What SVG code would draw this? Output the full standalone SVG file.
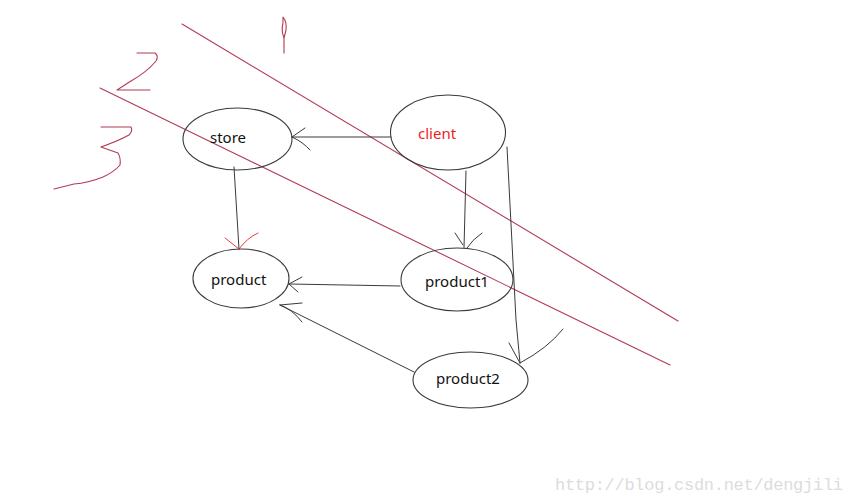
<svg xmlns="http://www.w3.org/2000/svg" width="856" height="502" viewBox="0 0 856 502">
<style>
.bg{fill:#ffffff}
.node ellipse{fill:none;stroke:#3a3a3a;stroke-width:1.1}
.lbl{font-family:"Noto Sans","Open Sans",sans-serif;font-size:15px;fill:#111}
.edge{fill:none;stroke:#3a3a3a;stroke-width:1;stroke-linecap:round;stroke-linejoin:round}
.redhead{fill:none;stroke:#ee3b3b;stroke-width:1;stroke-linecap:round}
.mark{fill:none;stroke:#b23a55;stroke-width:1.1;stroke-linecap:round;stroke-linejoin:round}
.wm{font-family:"Liberation Mono",monospace;font-size:17px;fill:#dcdcdc}
</style>
<rect class="bg" x="0" y="0" width="856" height="502"/>
<g id="markings">
<line class="mark" x1="182" y1="24" x2="678" y2="321"/>
<line class="mark" x1="100" y1="88" x2="670" y2="365"/>
<path class="mark" d="M284,53 L284,38 Q281,31 283,23 L283,17 Q287,22 286,30 L284,38"/>
<path class="mark" d="M137,53 L155,53 Q159,56 156,61 Q147,72 131,81 L117,90 L150,90"/>
<path class="mark" d="M101,127 L131,127 Q133,131 129,135 Q118,141 101,147 L118,153 Q121,158 120,165 Q114,172 103,177 Q88,183 74,184 L54,189"/>
</g>
<g id="connectors">
<path class="edge" d="M391,137 L292,137 M292,137 L305,128 M292,137 Q303,142 310,150"/>
<path class="edge" d="M234,167 L239,249"/>
<path class="redhead" d="M225,238 L239,249 M239,249 Q247,238 258,233"/>
<path class="edge" d="M466,171 L464,248 M455,233 L463,245 M482,233 Q472,240 467,248"/>
<path class="edge" d="M400,286 L289,284 M289,284 L302,277 M289,284 L298,292"/>
<path class="edge" d="M414,372 L280,305 M280,305 L302,303 M280,305 Q292,309 302,322"/>
<path class="edge" d="M507,147 L516,320 L520,363 M509,343 L520,363 M520,363 Q548,348 563,329"/>
</g>
<g id="store" class="node"><ellipse cx="237.5" cy="139" rx="54.5" ry="31"/><text class="lbl" x="210" y="143">store</text></g>
<g id="client" class="node"><ellipse cx="448" cy="132.5" rx="57.5" ry="37.5"/><text class="lbl" x="418" y="139" style="fill:#ed1c24">client</text></g>
<g id="product" class="node"><ellipse cx="241" cy="278.5" rx="48" ry="29.5"/><text class="lbl" x="211" y="285">product</text></g>
<g id="product1" class="node"><ellipse cx="457" cy="279.5" rx="56" ry="31.5"/><text class="lbl" x="425" y="287">product1</text></g>
<g id="product2" class="node"><ellipse cx="470.5" cy="380" rx="57.5" ry="28"/><text class="lbl" x="436" y="384">product2</text></g>
<text class="wm" x="555" y="490" textLength="288">http://blog.csdn.net/dengjili</text>
</svg>
